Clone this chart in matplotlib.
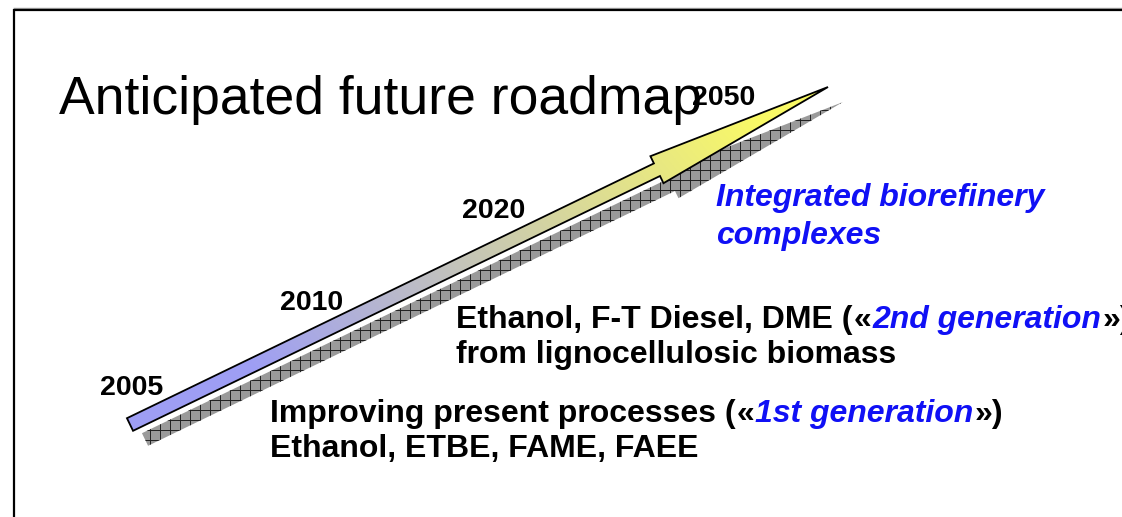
import numpy as np
import matplotlib
matplotlib.use('Agg')
import matplotlib.pyplot as plt
from matplotlib.patches import Polygon

plt.rcParams['font.family'] = ['Liberation Sans', 'DejaVu Sans']

W, H = 1122, 517

# slide text
title = 'Anticipated future roadmap'
years = ['2005', '2010', '2020', '2050']
year_pos = [(100, 395), (280, 310), (462, 218), (692, 105)]

biorefinery = ['Integrated biorefinery', 'complexes']
second_gen = [
    [('Ethanol, F-T Diesel, DME (', 'k'), ('«', 'k'), ('2nd generation', 'b'), ('»)', 'k')],
    [('from lignocellulosic biomass', 'k')],
]
first_gen = [
    [('Improving present processes (', 'k'), ('«', 'k'), ('1st generation', 'b'), ('»)', 'k')],
    [('Ethanol, ETBE, FAME, FAEE', 'k')],
]

BLUE = '#1010f5'


def arrow_poly(tail, tip, shaft_w, head_w, head_len):
    tail = np.array(tail, float)
    tip = np.array(tip, float)
    u = (tip - tail) / np.hypot(*(tip - tail))
    n = np.array([-u[1], u[0]])
    base = tip - u * head_len
    return np.array([tail + n * shaft_w / 2, base + n * shaft_w / 2,
                     base + n * head_w / 2, tip, base - n * head_w / 2,
                     base - n * shaft_w / 2, tail - n * shaft_w / 2])


fig = plt.figure(figsize=(W / 100, H / 100), dpi=100)
ax = fig.add_axes([0, 0, 1, 1])
ax.set_xlim(0, W)
ax.set_ylim(H, 0)
ax.axis('off')
renderer = fig.canvas.get_renderer()

# frame of the slide
ax.plot([13, W], [7.5, 7.5], color='#a0a0a0', lw=1.0, solid_capstyle='butt')
ax.plot([14, W], [9.5, 9.5], color='k', lw=1.6, solid_capstyle='butt')
ax.plot([14, 14], [9, H], color='k', lw=1.6, solid_capstyle='butt')

# arrow and its shadow
tail, tip = (130, 424.5), (828, 87)
pts = arrow_poly(tail, tip, 14, 30, 190)
spts = pts + np.array([15, 15])
shadow = Polygon(spts, closed=True, facecolor='#9a9a9a', edgecolor='none', zorder=1)
ax.add_patch(shadow)
# grid pattern of the shadow
sx0, sy0 = spts.min(axis=0)
sx1, sy1 = spts.max(axis=0)
gridx = np.arange(np.floor(sx0 / 10) * 10, sx1 + 10, 10)
gridy = np.arange(np.floor(sy0 / 10) * 10, sy1 + 10, 10)
vl = ax.vlines(gridx, sy0, sy1, colors='#202020', lw=0.7, zorder=2)
hl = ax.hlines(gridy, sx0, sx1, colors='#202020', lw=0.7, zorder=2)
vl.set_clip_path(shadow)
hl.set_clip_path(shadow)

outline = Polygon(pts, closed=True, facecolor='none', edgecolor='k', lw=1.3, zorder=4)
ax.add_patch(outline)

x0, y0 = pts.min(axis=0) - 2
x1, y1 = pts.max(axis=0) + 2
gx, gy = np.meshgrid(np.linspace(x0, x1, 400), np.linspace(y0, y1, 200))
ang = np.deg2rad(40)
proj = gx * np.cos(ang) - gy * np.sin(ang)
t = (proj - proj.min()) / (proj.max() - proj.min())
t = np.clip((t - 0.18) / 0.72, 0, 1)
c_tail = np.array([0.62, 0.62, 0.96])
c_head = np.array([0.98, 0.98, 0.40])
img = c_tail[None, None, :] * (1 - t[..., None]) + c_head[None, None, :] * t[..., None]
im = ax.imshow(img, extent=(x0, x1, y1, y0), origin='upper', aspect='auto', zorder=3)
clip = Polygon(pts, closed=True, transform=ax.transData)
im.set_clip_path(clip)
ax.set_xlim(0, W)
ax.set_ylim(H, 0)

# texts
ax.text(59, 114, title, fontsize=38.5, va='baseline', ha='left', zorder=5)
for lab, (x, y) in zip(years, year_pos):
    ax.text(x, y, lab, fontsize=20.5, fontweight='bold', va='baseline', ha='left', zorder=5)

for i, line in enumerate(biorefinery):
    ax.text(716, 206 + 38 * i, line, fontsize=23, fontweight='bold', style='italic',
            color=BLUE, va='baseline', ha='left', zorder=5)


def rich_line(x, y, parts, size):
    for txt, c in parts:
        if c == 'b':
            kw = dict(color=BLUE, style='italic')
        else:
            kw = dict(color='k')
        tt = ax.text(x, y, txt, fontsize=size, fontweight='bold', va='baseline',
                     ha='left', zorder=5, **kw)
        bb = tt.get_window_extent(renderer)
        x = ax.transData.inverted().transform((bb.x1, bb.y0))[0] + 1


for i, line in enumerate(second_gen):
    rich_line(456, 328 + 35 * i, line, 23)
for i, line in enumerate(first_gen):
    rich_line(270, 422 + 35 * i, line, 23)

fig.savefig('out.png', dpi=100)
